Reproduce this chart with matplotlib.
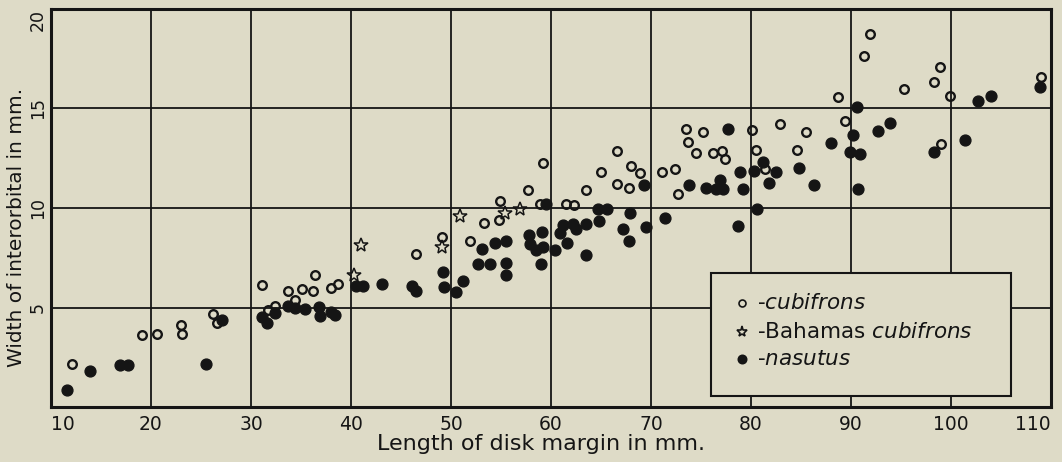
import matplotlib.pyplot as plt
from matplotlib.patches import Rectangle

# cubifrons (open circles)
cub_x = [12.1, 19.1, 20.6, 23.0, 23.1, 26.2, 26.6, 31.1, 32.35, 31.7, 33.7, 34.4, 35.05, 36.35,
         36.2, 37.95, 38.7, 46.5, 49.1, 51.9, 53.25, 54.85, 54.8, 57.7, 59.2, 58.9, 61.45, 62.3,
         63.45, 64.98, 66.6, 66.6, 68.0, 68.9, 67.75, 71.05, 72.4, 72.7, 73.45, 73.7, 74.45, 75.2,
         76.2, 77.1, 77.4, 80.05, 80.45, 81.4, 82.85, 84.55, 85.5, 88.7, 89.4, 91.25, 91.9, 95.25,
         98.3, 98.85, 99.9, 98.95, 109.0]
cub_y = [2.16, 3.6, 3.66, 4.1, 3.65, 4.65, 4.2, 6.14, 5.07, 4.85, 5.83, 5.4, 5.92, 6.64,
         5.85, 5.97, 6.2, 7.69, 8.56, 8.36, 9.27, 10.34, 9.4, 10.92, 12.26, 10.21, 10.21, 10.15,
         10.88, 11.8, 12.85, 11.2, 12.13, 11.76, 11.02, 11.82, 11.96, 10.71, 13.98, 13.34, 12.74, 13.81,
         12.77, 12.85, 12.45, 13.9, 12.9, 11.96, 14.2, 12.9, 13.8, 15.6, 14.38, 17.65, 18.75, 16.0,
         16.34, 17.1, 15.65, 13.22, 16.6]

# Bahamas cubifrons (stars)
bah_x = [40.25, 40.95, 49.05, 50.85, 55.4, 56.9]
bah_y = [6.63, 8.16, 8.02, 9.59, 9.74, 9.94]

# nasutus (filled circles)
nas_x = [11.55, 13.85, 16.9, 17.7, 25.5, 27.1, 31.05, 31.6, 32.35, 33.7, 34.4, 35.4, 36.8, 36.9,
         38.0, 38.35, 40.45, 41.2, 43.1, 46.1, 46.5, 49.2, 49.3, 50.45, 51.2, 52.7, 53.05, 53.9,
         54.4, 55.5, 55.5, 55.45, 57.75, 57.9, 58.5, 59.1, 59.2, 58.95, 60.4, 60.85, 61.6, 61.2,
         62.2, 62.5, 63.45, 63.5, 64.8, 64.7, 65.6, 67.2, 67.8, 67.85, 69.3, 69.5, 71.35, 73.75,
         75.45, 76.5, 77.2, 76.85, 77.7, 78.7, 78.9, 79.2, 80.25, 80.55, 81.2, 81.8, 82.45, 84.8,
         86.3, 88.0, 89.9, 90.15, 90.6, 90.7, 90.9, 92.7, 93.85, 98.3, 101.4, 102.7, 104.0, 108.9,
         59.5]
nas_y = [0.87, 1.83, 2.1, 2.1, 2.16, 4.35, 4.52, 4.2, 4.7, 5.1, 4.96, 4.9, 5.02, 4.57,
         4.75, 4.6, 6.09, 6.1, 6.17, 6.07, 5.85, 6.79, 6.04, 5.78, 6.32, 7.21, 7.94, 7.21,
         8.24, 8.32, 7.25, 6.64, 8.63, 8.19, 7.9, 8.8, 8.05, 7.21, 7.9, 8.76, 8.22, 9.17,
         9.2, 8.95, 7.64, 9.22, 9.33, 9.96, 9.94, 8.96, 8.34, 9.76, 11.14, 9.05, 9.5, 11.17,
         11.02, 10.95, 10.95, 11.39, 13.95, 9.12, 11.8, 10.95, 11.88, 9.94, 12.31, 11.25, 11.8, 12.0,
         11.17, 13.27, 12.82, 13.65, 15.1, 10.95, 12.73, 13.88, 14.28, 12.8, 13.44, 15.4, 15.63, 16.07,
         10.18]

x_ticks = [10, 20, 30, 40, 50, 60, 70, 80, 90, 100, 110]
y_ticks = [5, 10, 15, 20]

legend_labels = [r'-$\it{cubifrons}$', r'-Bahamas $\it{cubifrons}$', r'-$\it{nasutus}$']

bg = '#dedbc7'
ink = '#151515'

fig = plt.figure(figsize=(10.62, 4.62), dpi=100, facecolor=bg)
ax = fig.add_axes([51 / 1062, 1 - 407 / 462, 1000 / 1062, 398 / 462], facecolor=bg)

ax.set_xlim(10, 110)
ax.set_ylim(0, 20)
ax.set_xticks(x_ticks)
ax.set_yticks(y_ticks)
ax.grid(True, color=ink, linewidth=1.3, zorder=0)
ax.set_axisbelow(True)
for s in ax.spines.values():
    s.set_linewidth(2.2)
    s.set_color(ink)

ax.tick_params(length=0, labelsize=13.5, colors=ink)
ax.tick_params(axis='x', pad=6)
ax.tick_params(axis='y', pad=3, labelsize=12.5)
for lbl in ax.get_yticklabels():
    lbl.set_rotation(90)
    lbl.set_va('center')
ax.get_yticklabels()[-1].set_va('top')
xl = ax.get_xticklabels()
xl[0].set_ha('left')
xl[-1].set_ha('right')

ax.plot(cub_x, cub_y, 'o', ms=6.2, mfc='none', mec=ink, mew=1.7, zorder=3, clip_on=False)
ax.plot(bah_x, bah_y, '*', ms=10, mfc='none', mec=ink, mew=1.1, zorder=3)
ax.plot(nas_x, nas_y, 'o', ms=7.8, mfc=ink, mec=ink, zorder=3, clip_on=False)

fig.text(541 / 1062, 1 - 444 / 462, 'Length of disk margin in mm.', ha='center', va='center',
         fontsize=16, color=ink)
fig.text(17 / 1062, 1 - 227 / 462, 'Width of interorbital in mm.', ha='center', va='center',
         rotation=90, fontsize=14.5, color=ink)

# legend box, drawn by hand so it can be as wide as the original
ax.add_patch(Rectangle(((711 - 51) / 1000, (407 - 396) / 398), 300 / 1000, 123 / 398,
                       transform=ax.transAxes, facecolor=bg, edgecolor=ink,
                       linewidth=1.5, zorder=5))
row_py = [303, 331.7, 359.3]
row_style = [('o', 'none', 5), ('*', 'none', 8), ('o', ink, 6)]
for py, (m, fc, ms), txt in zip(row_py, row_style, legend_labels):
    yy = (407 - py) / 398
    ax.plot([(741.7 - 51) / 1000], [yy], m, ms=ms, mfc=fc, mec=ink, mew=1.2,
            transform=ax.transAxes, zorder=6)
    ax.text((757 - 51) / 1000, yy, txt, transform=ax.transAxes, fontsize=15.5,
            va='center', ha='left', color=ink, zorder=6)

plt.savefig('out.png', dpi=100, facecolor=bg)
